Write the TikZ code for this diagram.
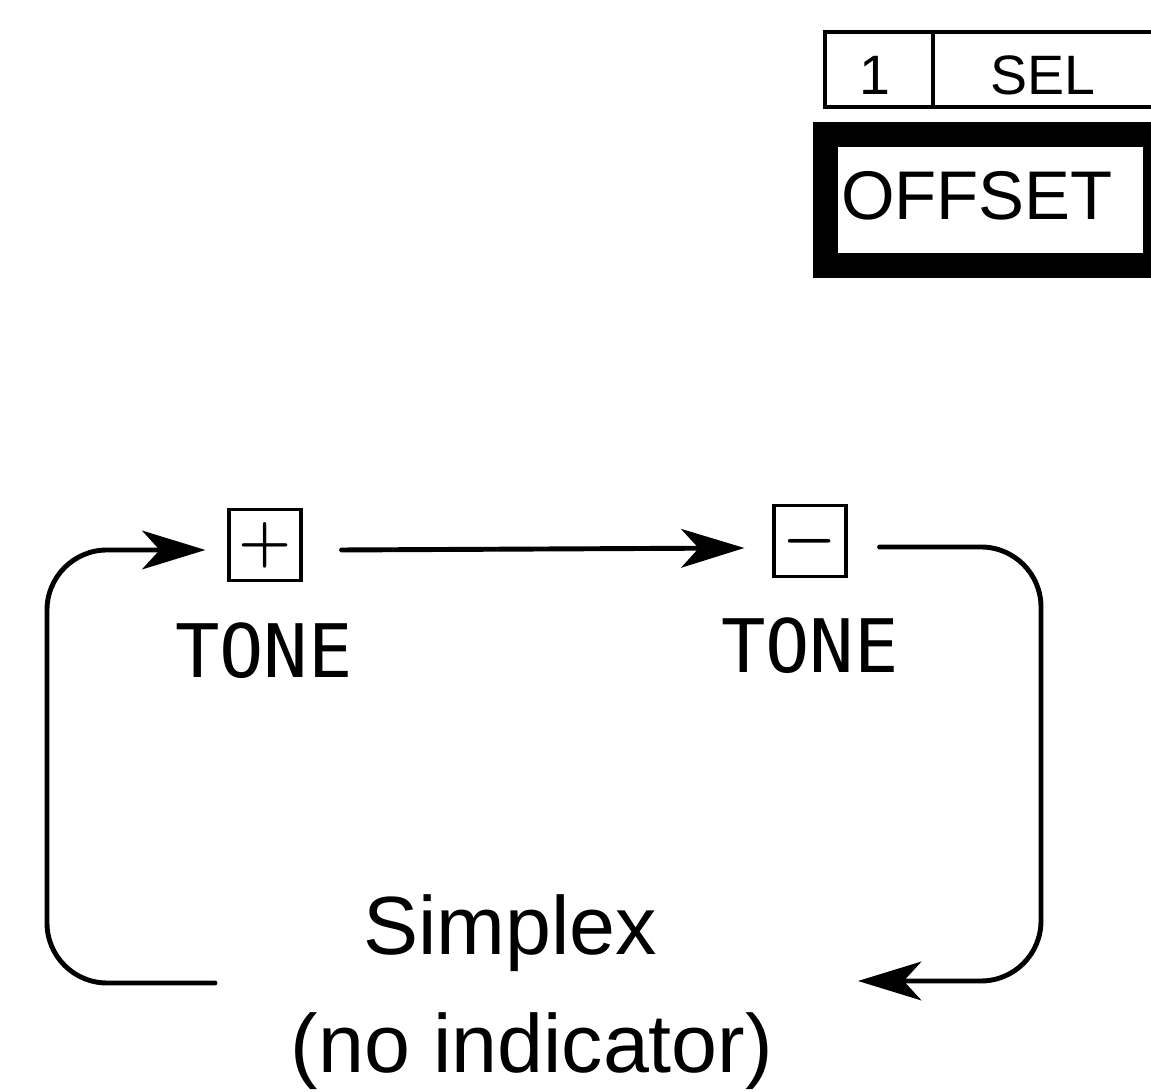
\documentclass[tikz,border=0pt]{standalone}
\usepackage{fontspec}
\setmainfont{Liberation Sans}
\newfontfamily\lcdfont{DejaVu Sans Mono}
\usetikzlibrary{arrows.meta,positioning,calc}

\tikzset{
  loopline/.style={line width=1.4pt, line cap=round, rounded corners=6mm},
  arr/.style={-{Stealth[length=18pt,width=11pt,inset=5pt]}},
  keybox/.style={draw, line width=0.9pt, minimum width=0.72cm,
                 minimum height=0.71cm, inner sep=0pt,
                 font=\fontsize{17}{17}\selectfont\boldmath},
  tone/.style={font=\lcdfont\fontsize{21}{21}\selectfont, anchor=base},
  caption/.style={font=\fontsize{23.5}{24}\selectfont, anchor=base}
}

\begin{document}
\begin{tikzpicture}
  \useasboundingbox (0,0) rectangle (11.51,-10.92);
  \clip (0,0) rectangle (11.51,-10.92);

  % Display window
  \draw[line width=0.9pt] (8.25,-0.32) rectangle (11.8,-1.07);
  \draw[line width=0.9pt] (9.33,-0.32) -- (9.33,-1.07);
  \node[anchor=base,font=\fontsize{15.8}{16}\selectfont] (chan) at (8.75,-0.95) {1};
  \node[anchor=base,font=\fontsize{15.8}{16}\selectfont] (sel) at (10.43,-0.95) {SEL};
  \draw[line width=0.25cm] (8.255,-1.345) rectangle (11.555,-2.655);
  \node[anchor=base,font=\fontsize{19.6}{20}\selectfont] (offset) at (9.77,-2.20) {OFFSET};

  % Keys
  \node[keybox] (plus) at (2.65,-5.45) {$+$};
  \node[keybox] (minus) at (8.10,-5.41) {$-$};
  \node[tone] (tonep) at (2.64,-6.78) {TONE};
  \node[tone] (tonem) at (8.10,-6.73) {TONE};

  % Simplex
  \node[caption] (simplex) at (5.10,-9.55) {Simplex};
  \node[caption] (noind) at (5.32,-10.73) {(no indicator)};
  \coordinate (lout) at (2.15,-9.83);
  \coordinate (rin) at (8.58,-9.81);

  % Cycle
  \draw[loopline,arr] ([xshift=3.9mm,yshift=-0.5mm]plus.east)
    -- ([xshift=-2.8mm,yshift=-0.7mm]minus.west);
  \draw[loopline,arr] ([xshift=3.2mm,yshift=-0.6mm]minus.east)
    -| (10.41,-9.81) -- (rin);
  \draw[loopline,arr] (lout) -| (0.47,-5.50)
    -- ([xshift=-2.2mm,yshift=-0.5mm]plus.west);
\end{tikzpicture}
\end{document}
